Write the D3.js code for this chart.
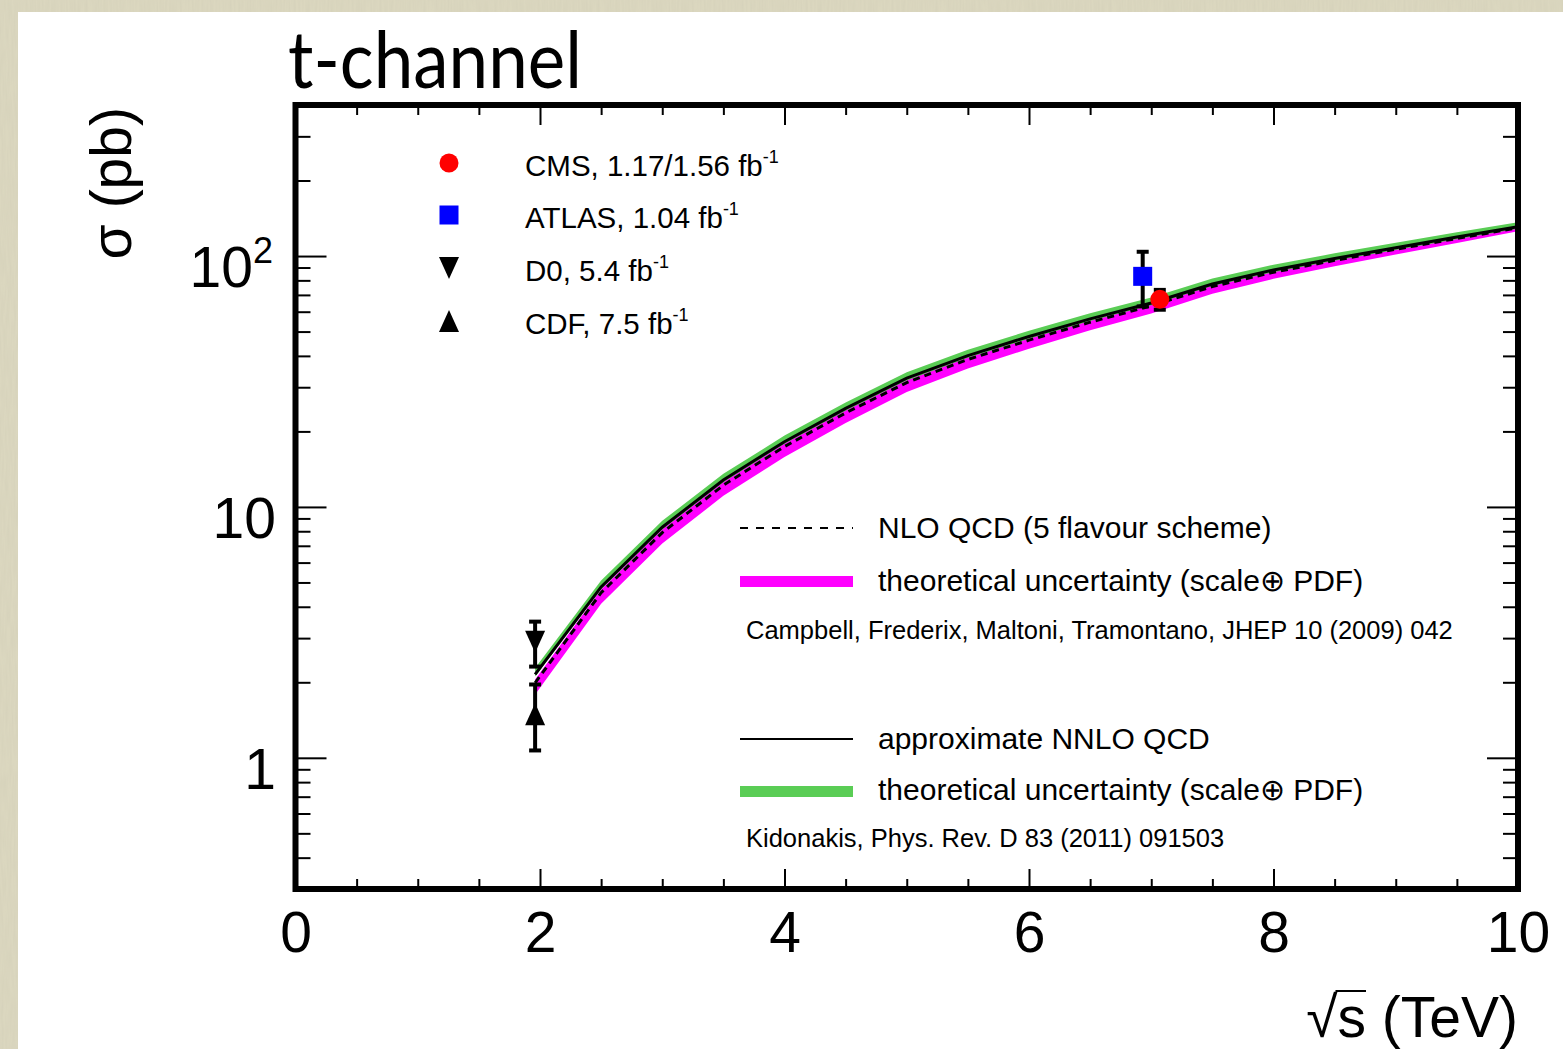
<!DOCTYPE html>
<html><head><meta charset="utf-8">
<script src="https://cdn.jsdelivr.net/npm/d3@7"></script>
<style>body{margin:0;background:#d8d4bb;} svg{display:block}</style>
</head><body><svg id="c" width="1563" height="1049"></svg>
<script>
// ---- data ----
const sqrtS   = [1.96, 2.5, 3, 3.5, 4, 4.5, 5, 5.5, 6, 6.5, 7, 7.5, 8, 8.5, 9, 9.5, 10];
const nnlo    = [2.15, 4.8, 8.3, 12.8, 18.2, 24.7, 32.6, 40.1, 47.8, 56.2, 65.0, 77.4, 88.0, 97.8, 108.0, 119.0, 131.0];
const nnloLo  = [2.11, 4.70, 8.13, 12.54, 17.84, 24.2, 31.9, 39.3, 46.8, 55.1, 63.7, 75.9, 86.2, 95.8, 105.8, 116.6, 128.4];
const nnloHi  = [2.28, 5.09, 8.80, 13.55, 19.25, 26.1, 34.4, 42.3, 50.4, 59.2, 68.4, 81.3, 92.3, 102.5, 113.0, 124.3, 136.5];
const nlo     = [1.99, 4.55, 7.9, 12.2, 17.4, 23.7, 31.3, 38.7, 46.2, 54.5, 63.3, 75.6, 86.2, 96.1, 106.4, 117.5, 129.6];
const nloLo   = [1.79, 4.11, 7.15, 11.07, 15.8, 21.6, 28.7, 35.6, 42.7, 50.6, 59.0, 70.8, 81.1, 91.0, 101.5, 112.8, 125.5];
const nloHi   = [2.05, 4.69, 8.14, 12.6, 17.9, 24.4, 32.2, 39.9, 47.6, 56.1, 65.2, 77.9, 88.8, 99.0, 109.6, 121.0, 133.5];

const expNames = ["CMS", "ATLAS", "D0", "CDF"];
const expLabels = ["CMS, 1.17/1.56 fb", "ATLAS, 1.04 fb", "D0, 5.4 fb", "CDF, 7.5 fb"];
const expX     = [7.07, 6.93, 1.96, 1.96];
const expY     = [67.2, 83.0, 2.90, 1.49];
const expErrLo = [61.1, 63.0, 2.31, 1.07];
const expErrHi = [73.3, 104.0, 3.49, 1.96];

const xMajorTicks = [0, 2, 4, 6, 8, 10];
const xMinorTicks = [0.5,1,1.5,2.5,3,3.5,4.5,5,5.5,6.5,7,7.5,8.5,9,9.5];
const yMajorTicks = [1, 10, 100];
const yMinorTicks = [0.3,0.4,0.5,0.6,0.7,0.8,0.9,2,3,4,5,6,7,8,9,20,30,40,50,60,70,80,90,200,300,400];
const yTickLabels = [["1",""], ["10",""], ["10","2"]];

// ---- layout ----
const svg = d3.select("#c");
const L = 295.5, R = 1518, T = 105, B = 889;
const x = d3.scaleLinear().domain([0, 10]).range([L, R]);
const y = d3.scaleLog().domain([0.3, 400]).range([B, T]);
const font = "'Liberation Sans', Arial, Helvetica, sans-serif";

const defs = svg.append("defs");
const f = defs.append("filter").attr("id", "tex").attr("x", 0).attr("y", 0).attr("width", 1).attr("height", 1);
f.append("feTurbulence").attr("type", "fractalNoise").attr("baseFrequency", "0.5 0.04").attr("numOctaves", 2).attr("seed", 3);
f.append("feColorMatrix").attr("type", "matrix")
  .attr("values", "0 0 0 0 0.55  0 0 0 0 0.53  0 0 0 0 0.42  0 0 0 0.35 -0.1");
f.append("feComposite").attr("in2", "SourceGraphic").attr("operator", "in");

// background panel
svg.append("rect").attr("x", 0).attr("y", 0).attr("width", 1563).attr("height", 1049).attr("fill", "#dbd7bf");
svg.append("rect").attr("x", 0).attr("y", 0).attr("width", 1563).attr("height", 1049).attr("fill", "#dbd7bf").attr("filter", "url(#tex)");
svg.append("rect").attr("x", 18).attr("y", 12).attr("width", 1545).attr("height", 1037).attr("fill", "#fff");

defs.append("clipPath").attr("id", "plot")
  .append("rect").attr("x", L).attr("y", T).attr("width", R - L).attr("height", B - T);

const plot = svg.append("g").attr("clip-path", "url(#plot)");

const idx = d3.range(sqrtS.length);
const band = (lo, hi) => d3.area().x(i => x(sqrtS[i])).y0(i => y(lo[i])).y1(i => y(hi[i]))(idx);
const line = (v) => d3.line().x(i => x(sqrtS[i])).y(i => y(v[i]))(idx);

plot.append("path").attr("d", band(nloLo, nloHi)).attr("fill", "#ff00ff");
plot.append("path").attr("d", band(nnloLo, nnloHi)).attr("fill", "#5acd55");
plot.append("path").attr("d", line(nlo)).attr("fill", "none").attr("stroke", "#000")
  .attr("stroke-width", 3).attr("stroke-dasharray", "7,5");
plot.append("path").attr("d", line(nnlo)).attr("fill", "none").attr("stroke", "#000").attr("stroke-width", 3);

// axes ticks
function styleAxis(g) {
  g.select(".domain").remove();
  g.selectAll(".tick line").attr("stroke", "#000").attr("stroke-width", 2);
}
const axB = svg.append("g").attr("transform", `translate(0,${B})`)
  .call(d3.axisBottom(x).tickValues(xMajorTicks).tickSize(-20).tickPadding(23).tickFormat(d3.format("d")));
styleAxis(axB);
axB.selectAll(".tick text").attr("font-family", font).attr("font-size", 57).attr("fill", "#000");
svg.append("g").attr("transform", `translate(0,${B})`)
  .call(d3.axisBottom(x).tickValues(xMinorTicks).tickSize(-10).tickFormat("")).call(styleAxis);
svg.append("g").attr("transform", `translate(0,${T})`)
  .call(d3.axisTop(x).tickValues(xMajorTicks).tickSize(-20).tickFormat("")).call(styleAxis);
svg.append("g").attr("transform", `translate(0,${T})`)
  .call(d3.axisTop(x).tickValues(xMinorTicks).tickSize(-10).tickFormat("")).call(styleAxis);
svg.append("g").attr("transform", `translate(${L},0)`)
  .call(d3.axisLeft(y).tickValues(yMajorTicks).tickSize(-31).tickFormat("")).call(styleAxis);
svg.append("g").attr("transform", `translate(${L},0)`)
  .call(d3.axisLeft(y).tickValues(yMinorTicks).tickSize(-15).tickFormat("")).call(styleAxis);
svg.append("g").attr("transform", `translate(${R},0)`)
  .call(d3.axisRight(y).tickValues(yMajorTicks).tickSize(-31).tickFormat("")).call(styleAxis);
svg.append("g").attr("transform", `translate(${R},0)`)
  .call(d3.axisRight(y).tickValues(yMinorTicks).tickSize(-15).tickFormat("")).call(styleAxis);

// y tick labels
yMajorTicks.forEach((v, i) => {
  const t = svg.append("text").attr("x", i === 2 ? 273 : 276).attr("y", y(v) + 31)
    .attr("text-anchor", "end").attr("font-family", font).attr("font-size", 57).attr("fill", "#000");
  t.append("tspan").text(yTickLabels[i][0]);
  if (yTickLabels[i][1]) t.append("tspan").attr("font-size", 36).attr("dy", -24).text(yTickLabels[i][1]);
});

// experimental points
const pts = svg.append("g");
expX.forEach((xv, i) => {
  const cx = x(xv);
  pts.append("line").attr("x1", cx).attr("x2", cx).attr("y1", y(expErrLo[i])).attr("y2", y(expErrHi[i]))
    .attr("stroke", "#000").attr("stroke-width", 4);
  [expErrLo[i], expErrHi[i]].forEach(e => pts.append("line").attr("x1", cx - 6).attr("x2", cx + 6)
    .attr("y1", y(e)).attr("y2", y(e)).attr("stroke", "#000").attr("stroke-width", 4));
});
function marker(g, name, cx, cy) {
  if (name === "CMS") g.append("circle").attr("cx", cx).attr("cy", cy).attr("r", 9.5).attr("fill", "#ff0000");
  else if (name === "ATLAS") g.append("rect").attr("x", cx - 9.5).attr("y", cy - 9.5).attr("width", 19).attr("height", 19).attr("fill", "#0000ff");
  else if (name === "D0") g.append("path").attr("d", `M${cx-10},${cy-11}L${cx+10},${cy-11}L${cx},${cy+11}Z`).attr("fill", "#000");
  else g.append("path").attr("d", `M${cx-10},${cy+11}L${cx+10},${cy+11}L${cx},${cy-11}Z`).attr("fill", "#000");
}
expX.forEach((xv, i) => marker(pts, expNames[i], x(xv), y(expY[i])));

// frame
svg.append("rect").attr("x", L).attr("y", T).attr("width", R - L).attr("height", B - T)
  .attr("fill", "none").attr("stroke", "#000").attr("stroke-width", 6);

// legend (experiments)
const leg = svg.append("g");
const legY = [163, 215, 268, 321];
expNames.forEach((n, i) => {
  marker(leg, n, 449, legY[i]);
  const t = leg.append("text").attr("x", 525).attr("y", legY[i] + 13).attr("font-family", font)
    .attr("font-size", 29.5).attr("fill", "#000");
  t.append("tspan").text(expLabels[i]);
  t.append("tspan").attr("font-size", 18).attr("dy", -13).text("-1");
});

// legend (theory)
const theo = svg.append("g");
function txt(xp, yp, s, size) {
  return theo.append("text").attr("x", xp).attr("y", yp).attr("font-family", font)
    .attr("font-size", size).attr("fill", "#000").text(s);
}
theo.append("line").attr("x1", 740).attr("x2", 853).attr("y1", 528).attr("y2", 528)
  .attr("stroke", "#000").attr("stroke-width", 2).attr("stroke-dasharray", "8,8");
txt(878, 538, "NLO QCD (5 flavour scheme)", 30);
theo.append("rect").attr("x", 740).attr("y", 576).attr("width", 113).attr("height", 11).attr("fill", "#ff00ff");
txt(878, 591, "theoretical uncertainty (scale\u2295 PDF)", 30);
txt(746, 639, "Campbell, Frederix, Maltoni, Tramontano, JHEP 10 (2009) 042", 25.5);
theo.append("line").attr("x1", 740).attr("x2", 853).attr("y1", 739).attr("y2", 739)
  .attr("stroke", "#000").attr("stroke-width", 2);
txt(878, 749, "approximate NNLO QCD", 30);
theo.append("rect").attr("x", 740).attr("y", 786).attr("width", 113).attr("height", 11).attr("fill", "#5acd55");
txt(878, 800, "theoretical uncertainty (scale\u2295 PDF)", 30);
txt(746, 847, "Kidonakis, Phys. Rev. D 83 (2011) 091503", 25.5);

// axis titles
svg.append("text").attr("transform", "translate(131,107) rotate(-90)").attr("text-anchor", "end")
  .attr("font-family", font).attr("font-size", 57).attr("fill", "#000").text("\u03c3 (pb)");
const xt = svg.append("text").attr("x", R).attr("y", 1037).attr("text-anchor", "end")
  .attr("font-family", font).attr("font-size", 57).attr("fill", "#000").text("\u221as (TeV)");
try {
  const n = xt.node();
  const s0 = n.getStartPositionOfChar(1), e0 = n.getEndPositionOfChar(1);
  svg.append("line").attr("x1", s0.x - 2).attr("x2", e0.x).attr("y1", 991).attr("y2", 991)
    .attr("stroke", "#000").attr("stroke-width", 2);
} catch (e) {}

// title
svg.append("text").attr("x", 288).attr("y", 88).attr("font-family", "Lato, 'Open Sans', sans-serif")
  .attr("font-size", 80).attr("fill", "#000").attr("textLength", 294).attr("lengthAdjust", "spacingAndGlyphs")
  .text("t-channel");
</script></body></html>
